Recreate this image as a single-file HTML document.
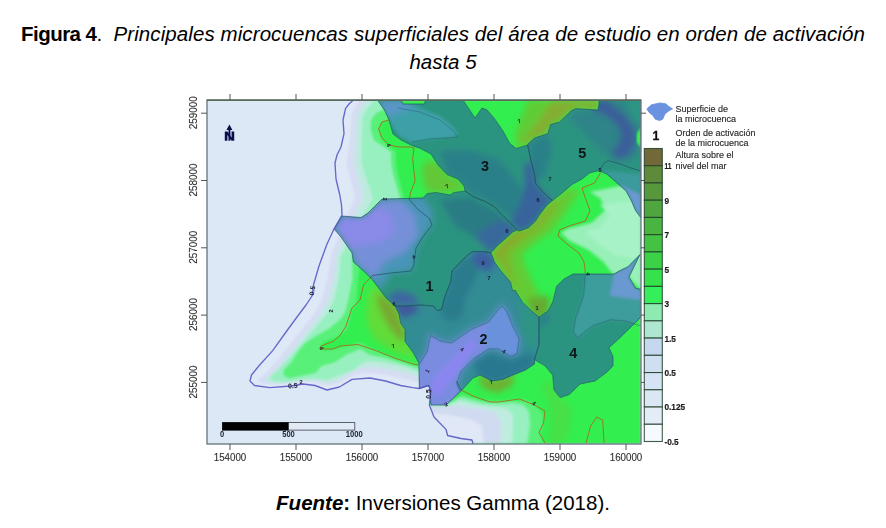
<!DOCTYPE html>
<html><head><meta charset="utf-8"><title>Figura 4</title>
<style>
html,body{margin:0;padding:0;background:#fff;}
body{width:886px;height:528px;position:relative;overflow:hidden;font-family:"Liberation Sans",sans-serif;color:#000;}
.t{position:absolute;left:0;width:886px;text-align:center;white-space:nowrap;}
#t1{top:21.7px;font-size:20.5px;line-height:24px;}
#t2{top:49.6px;font-size:20.5px;line-height:24px;font-style:italic;}
#t3{top:490.7px;font-size:20.5px;line-height:24px;}
</style></head><body>
<div class="t" id="t1"><span id="s1"><b style="letter-spacing:-0.55px">Figura 4</b>.&nbsp; <i id="s1i" style="letter-spacing:0.09px">Principales microcuencas superficiales del área de estudio en orden de activación</i></span></div>
<div class="t" id="t2"><span id="s2">hasta 5</span></div>
<div class="t" id="t3"><span id="s3"><b><i>Fuente</i>:</b> Inversiones Gamma (2018).</span></div>
<svg width="886" height="528" viewBox="0 0 886 528" style="position:absolute;left:0;top:0">
<defs>
<filter id="b0" x="-0.1" y="-0.1" width="1.2" height="1.2"><feGaussianBlur stdDeviation="0.9"/></filter>
<filter id="b1" x="-0.1" y="-0.1" width="1.2" height="1.2"><feGaussianBlur stdDeviation="1.6"/></filter>
<filter id="b2" x="-0.2" y="-0.2" width="1.4" height="1.4"><feGaussianBlur stdDeviation="3"/></filter>
<filter id="b3" x="-0.3" y="-0.3" width="1.6" height="1.6"><feGaussianBlur stdDeviation="5"/></filter>
<filter id="bm" filterUnits="userSpaceOnUse" x="190" y="85" width="470" height="375"><feGaussianBlur stdDeviation="0.55"/></filter>
<filter id="bt" x="-0.1" y="-0.1" width="1.2" height="1.2"><feGaussianBlur stdDeviation="0.45"/></filter>
<clipPath id="cf"><rect x="207" y="100" width="434" height="344"/></clipPath>
<clipPath id="cland"><polygon points="353.4,100.0 349.0,104.0 345.5,108.6 343.0,120.0 344.0,133.6 341.0,147.0 337.0,155.0 335.0,163.0 336.0,179.0 339.8,195.0 341.5,205.0 342.0,215.0 334.0,229.0 327.0,244.0 319.0,266.0 313.6,284.5 312.0,296.0 306.0,305.0 297.0,317.0 286.0,332.0 272.7,350.6 259.0,365.8 251.5,375.0 250.0,381.0 254.5,385.5 269.7,387.6 291.0,386.0 303.0,384.0 315.0,385.5 327.0,390.0 339.4,387.0 352.0,379.4 370.0,378.0 385.5,381.0 400.6,385.5 412.7,387.6 419.4,388.5 428.0,385.5 431.0,390.0 429.4,405.0 434.0,417.0 446.0,429.4 447.6,435.5 461.0,438.5 472.0,440.0 473.0,444.0 641.0,444.0 641.0,100.0"/></clipPath>
<clipPath id="cb1"><polygon points="342.0,216.0 361.0,217.5 368.0,213.0 382.0,199.0 423.0,198.0 427.0,193.6 436.0,192.5 450.0,195.0 454.0,192.5 465.0,191.0 474.0,197.0 485.5,201.6 494.5,207.0 506.0,218.6 517.0,230.0 512.7,232.0 506.0,238.0 497.0,246.0 491.0,252.7 483.6,251.6 472.0,251.6 465.5,257.0 458.6,264.0 452.0,271.0 450.7,282.0 445.0,296.0 442.7,305.0 441.6,309.5 437.0,310.7 433.6,306.0 420.0,305.0 404.0,306.0 395.0,306.0 386.0,298.0 372.7,280.0 363.6,271.0 353.4,262.0 352.0,253.0 341.0,237.0 334.0,229.0"/></clipPath>
<clipPath id="cb2"><polygon points="491.0,252.7 494.5,262.0 501.0,271.0 510.5,282.0 512.7,291.0 515.0,290.0 522.4,302.0 531.5,311.0 539.0,317.0 539.0,344.5 534.5,359.7 534.5,364.0 525.5,370.0 513.0,375.0 502.7,379.4 492.0,381.0 480.0,375.0 473.0,378.0 461.0,391.0 446.0,405.0 431.0,405.0 429.4,385.5 419.4,388.5 418.8,362.7 412.7,352.0 405.0,341.5 405.0,329.4 400.6,323.0 399.0,314.0 395.0,306.0 404.0,306.0 420.0,305.0 433.6,306.0 437.0,310.7 441.6,309.5 442.7,305.0 445.0,296.0 450.7,282.0 452.0,271.0 458.6,264.0 465.5,257.0 472.0,251.6 483.6,251.6"/></clipPath>
<clipPath id="cb3"><polygon points="377.5,100.0 385.0,111.0 389.0,120.0 393.0,134.0 401.0,140.0 413.0,146.0 419.5,148.0 431.0,154.0 438.0,165.0 447.0,174.5 458.0,179.0 464.0,186.0 465.0,191.0 474.0,197.0 485.5,201.6 494.5,207.0 506.0,218.6 517.0,230.0 519.5,231.0 528.6,227.7 535.5,221.0 540.0,214.0 547.0,205.0 552.5,200.5 549.0,198.0 542.0,191.0 535.5,183.4 534.5,174.5 531.0,161.0 527.7,145.0 516.0,148.5 509.5,143.0 503.0,131.0 494.0,118.0 487.0,110.0 482.0,108.0 475.0,118.0 463.0,100.0 426.0,100.0 424.0,104.0 403.0,104.0 401.0,100.0"/></clipPath>
<clipPath id="cb4"><polygon points="555.7,290.0 552.7,302.0 548.0,311.0 539.0,317.0 539.0,344.5 534.5,359.7 545.0,365.8 552.7,375.0 554.0,390.0 560.0,397.6 569.4,394.5 580.0,384.0 595.0,381.0 607.0,372.0 613.0,365.8 613.0,356.7 609.0,347.6 616.0,341.5 628.5,329.4 641.0,317.0 641.0,289.4 635.5,288.0 629.0,277.0 632.0,271.0 640.0,254.5 635.5,259.0 628.0,266.7 619.0,271.0 614.0,274.0 573.0,274.0 564.0,279.0 556.7,286.0"/></clipPath>
<clipPath id="cb5"><polygon points="599.0,100.0 599.0,104.0 598.0,110.0 575.5,108.6 571.0,111.0 559.5,122.0 550.5,124.5 548.0,133.6 534.5,138.0 528.0,144.0 527.7,145.0 531.0,161.0 534.5,174.5 535.5,183.4 542.0,191.0 549.0,198.0 552.5,200.5 562.7,192.5 572.0,184.5 582.0,179.0 590.0,172.7 599.0,170.6 606.7,174.0 617.0,183.0 626.0,191.0 631.0,200.0 635.5,210.6 641.0,218.0 641.0,100.0"/></clipPath>
<clipPath id="call"><polygon points="342.0,216.0 361.0,217.5 368.0,213.0 382.0,199.0 423.0,198.0 427.0,193.6 436.0,192.5 450.0,195.0 454.0,192.5 465.0,191.0 474.0,197.0 485.5,201.6 494.5,207.0 506.0,218.6 517.0,230.0 512.7,232.0 506.0,238.0 497.0,246.0 491.0,252.7 483.6,251.6 472.0,251.6 465.5,257.0 458.6,264.0 452.0,271.0 450.7,282.0 445.0,296.0 442.7,305.0 441.6,309.5 437.0,310.7 433.6,306.0 420.0,305.0 404.0,306.0 395.0,306.0 386.0,298.0 372.7,280.0 363.6,271.0 353.4,262.0 352.0,253.0 341.0,237.0 334.0,229.0"/><polygon points="491.0,252.7 494.5,262.0 501.0,271.0 510.5,282.0 512.7,291.0 515.0,290.0 522.4,302.0 531.5,311.0 539.0,317.0 539.0,344.5 534.5,359.7 534.5,364.0 525.5,370.0 513.0,375.0 502.7,379.4 492.0,381.0 480.0,375.0 473.0,378.0 461.0,391.0 446.0,405.0 431.0,405.0 429.4,385.5 419.4,388.5 418.8,362.7 412.7,352.0 405.0,341.5 405.0,329.4 400.6,323.0 399.0,314.0 395.0,306.0 404.0,306.0 420.0,305.0 433.6,306.0 437.0,310.7 441.6,309.5 442.7,305.0 445.0,296.0 450.7,282.0 452.0,271.0 458.6,264.0 465.5,257.0 472.0,251.6 483.6,251.6"/><polygon points="377.5,100.0 385.0,111.0 389.0,120.0 393.0,134.0 401.0,140.0 413.0,146.0 419.5,148.0 431.0,154.0 438.0,165.0 447.0,174.5 458.0,179.0 464.0,186.0 465.0,191.0 474.0,197.0 485.5,201.6 494.5,207.0 506.0,218.6 517.0,230.0 519.5,231.0 528.6,227.7 535.5,221.0 540.0,214.0 547.0,205.0 552.5,200.5 549.0,198.0 542.0,191.0 535.5,183.4 534.5,174.5 531.0,161.0 527.7,145.0 516.0,148.5 509.5,143.0 503.0,131.0 494.0,118.0 487.0,110.0 482.0,108.0 475.0,118.0 463.0,100.0 426.0,100.0 424.0,104.0 403.0,104.0 401.0,100.0"/><polygon points="555.7,290.0 552.7,302.0 548.0,311.0 539.0,317.0 539.0,344.5 534.5,359.7 545.0,365.8 552.7,375.0 554.0,390.0 560.0,397.6 569.4,394.5 580.0,384.0 595.0,381.0 607.0,372.0 613.0,365.8 613.0,356.7 609.0,347.6 616.0,341.5 628.5,329.4 641.0,317.0 641.0,289.4 635.5,288.0 629.0,277.0 632.0,271.0 640.0,254.5 635.5,259.0 628.0,266.7 619.0,271.0 614.0,274.0 573.0,274.0 564.0,279.0 556.7,286.0"/><polygon points="599.0,100.0 599.0,104.0 598.0,110.0 575.5,108.6 571.0,111.0 559.5,122.0 550.5,124.5 548.0,133.6 534.5,138.0 528.0,144.0 527.7,145.0 531.0,161.0 534.5,174.5 535.5,183.4 542.0,191.0 549.0,198.0 552.5,200.5 562.7,192.5 572.0,184.5 582.0,179.0 590.0,172.7 599.0,170.6 606.7,174.0 617.0,183.0 626.0,191.0 631.0,200.0 635.5,210.6 641.0,218.0 641.0,100.0"/></clipPath>
<clipPath id="cnb"><path clip-rule="evenodd" d="M207,100H641V444H207Z M342.0,216.0 361.0,217.5 368.0,213.0 382.0,199.0 423.0,198.0 427.0,193.6 436.0,192.5 450.0,195.0 454.0,192.5 465.0,191.0 474.0,197.0 485.5,201.6 494.5,207.0 506.0,218.6 517.0,230.0 512.7,232.0 506.0,238.0 497.0,246.0 491.0,252.7 483.6,251.6 472.0,251.6 465.5,257.0 458.6,264.0 452.0,271.0 450.7,282.0 445.0,296.0 442.7,305.0 441.6,309.5 437.0,310.7 433.6,306.0 420.0,305.0 404.0,306.0 395.0,306.0 386.0,298.0 372.7,280.0 363.6,271.0 353.4,262.0 352.0,253.0 341.0,237.0 334.0,229.0Z M491.0,252.7 494.5,262.0 501.0,271.0 510.5,282.0 512.7,291.0 515.0,290.0 522.4,302.0 531.5,311.0 539.0,317.0 539.0,344.5 534.5,359.7 534.5,364.0 525.5,370.0 513.0,375.0 502.7,379.4 492.0,381.0 480.0,375.0 473.0,378.0 461.0,391.0 446.0,405.0 431.0,405.0 429.4,385.5 419.4,388.5 418.8,362.7 412.7,352.0 405.0,341.5 405.0,329.4 400.6,323.0 399.0,314.0 395.0,306.0 404.0,306.0 420.0,305.0 433.6,306.0 437.0,310.7 441.6,309.5 442.7,305.0 445.0,296.0 450.7,282.0 452.0,271.0 458.6,264.0 465.5,257.0 472.0,251.6 483.6,251.6Z M377.5,100.0 385.0,111.0 389.0,120.0 393.0,134.0 401.0,140.0 413.0,146.0 419.5,148.0 431.0,154.0 438.0,165.0 447.0,174.5 458.0,179.0 464.0,186.0 465.0,191.0 474.0,197.0 485.5,201.6 494.5,207.0 506.0,218.6 517.0,230.0 519.5,231.0 528.6,227.7 535.5,221.0 540.0,214.0 547.0,205.0 552.5,200.5 549.0,198.0 542.0,191.0 535.5,183.4 534.5,174.5 531.0,161.0 527.7,145.0 516.0,148.5 509.5,143.0 503.0,131.0 494.0,118.0 487.0,110.0 482.0,108.0 475.0,118.0 463.0,100.0 426.0,100.0 424.0,104.0 403.0,104.0 401.0,100.0Z M555.7,290.0 552.7,302.0 548.0,311.0 539.0,317.0 539.0,344.5 534.5,359.7 545.0,365.8 552.7,375.0 554.0,390.0 560.0,397.6 569.4,394.5 580.0,384.0 595.0,381.0 607.0,372.0 613.0,365.8 613.0,356.7 609.0,347.6 616.0,341.5 628.5,329.4 641.0,317.0 641.0,289.4 635.5,288.0 629.0,277.0 632.0,271.0 640.0,254.5 635.5,259.0 628.0,266.7 619.0,271.0 614.0,274.0 573.0,274.0 564.0,279.0 556.7,286.0Z M599.0,100.0 599.0,104.0 598.0,110.0 575.5,108.6 571.0,111.0 559.5,122.0 550.5,124.5 548.0,133.6 534.5,138.0 528.0,144.0 527.7,145.0 531.0,161.0 534.5,174.5 535.5,183.4 542.0,191.0 549.0,198.0 552.5,200.5 562.7,192.5 572.0,184.5 582.0,179.0 590.0,172.7 599.0,170.6 606.7,174.0 617.0,183.0 626.0,191.0 631.0,200.0 635.5,210.6 641.0,218.0 641.0,100.0Z"/></clipPath>
</defs>
<g clip-path="url(#cf)"><g filter="url(#bm)">
<rect x="197" y="90" width="454" height="364" fill="#dde8f6"/>
<g clip-path="url(#cland)">
<polygon points="353.4,100.0 349.0,104.0 345.5,108.6 343.0,120.0 344.0,133.6 341.0,147.0 337.0,155.0 335.0,163.0 336.0,179.0 339.8,195.0 341.5,205.0 342.0,215.0 334.0,229.0 327.0,244.0 319.0,266.0 313.6,284.5 312.0,296.0 306.0,305.0 297.0,317.0 286.0,332.0 272.7,350.6 259.0,365.8 251.5,375.0 250.0,381.0 254.5,385.5 269.7,387.6 291.0,386.0 303.0,384.0 315.0,385.5 327.0,390.0 339.4,387.0 352.0,379.4 370.0,378.0 385.5,381.0 400.6,385.5 412.7,387.6 419.4,388.5 428.0,385.5 431.0,390.0 429.4,405.0 434.0,417.0 446.0,429.4 447.6,435.5 461.0,438.5 472.0,440.0 473.0,444.0 641.0,444.0 641.0,100.0" fill="#dfe8f6" />
<g filter="url(#b0)">
<polygon points="360.0,100.0 353.4,108.6 351.0,117.7 350.0,140.5 346.6,163.0 350.0,178.0 353.4,190.5 354.5,198.4 349.0,212.0 342.0,228.0 336.0,242.0 331.0,255.5 327.5,278.0 322.0,300.0 314.0,314.0 303.0,328.0 292.0,342.0 280.0,357.0 268.0,371.0 258.0,380.0 262.0,384.0 278.0,384.5 291.0,383.5 303.0,382.0 316.0,382.5 328.0,386.0 339.0,383.0 352.0,376.0 362.0,373.5 370.0,373.0 386.0,375.0 400.6,378.0 413.0,381.0 420.0,383.0 420.0,444.0 641.0,444.0 641.0,100.0" fill="#d6ddf3" />
<polygon points="367.0,100.0 360.0,108.6 356.8,117.7 355.7,140.5 354.5,163.0 358.0,178.0 361.4,190.5 362.5,198.4 356.0,213.0 348.0,230.0 341.0,244.0 336.6,255.5 334.0,278.0 328.0,300.0 320.0,315.0 309.0,329.0 298.0,343.0 286.0,358.0 274.0,372.0 265.0,379.0 268.0,382.5 280.0,383.5 291.0,382.5 303.0,380.5 316.0,380.5 328.0,383.0 339.0,380.0 352.0,372.0 362.0,368.0 370.0,367.0 386.0,369.0 400.6,372.0 413.0,375.0 420.0,378.0 420.0,444.0 641.0,444.0 641.0,100.0" fill="#bfeae0" />
<polygon points="374.0,100.0 367.0,108.6 362.5,117.7 361.4,140.5 361.4,163.0 366.0,178.0 370.5,190.5 372.7,198.4 364.0,214.0 355.0,232.0 347.0,246.0 341.0,255.5 339.0,278.0 334.0,300.0 327.0,314.0 316.0,327.0 305.0,340.0 293.0,354.0 280.0,368.0 270.0,377.0 273.0,381.0 283.0,382.0 291.0,381.5 303.0,379.5 316.0,379.0 327.0,380.0 338.5,375.8 353.6,370.0 362.0,363.0 370.0,361.0 386.0,363.0 400.6,366.0 413.0,370.0 420.0,373.0 420.0,444.0 641.0,444.0 641.0,100.0" fill="#98f0c0" />
<polygon points="388.0,100.0 384.0,109.0 376.0,113.0 371.0,120.0 370.5,129.0 374.0,140.5 384.0,147.0 391.0,152.0 391.0,163.0 393.0,174.5 397.7,190.5 400.0,198.4 385.0,215.0 365.0,240.0 352.0,258.0 352.5,278.0 348.0,301.0 345.0,312.0 340.4,319.0 329.0,328.4 315.8,336.0 304.4,343.6 296.8,353.0 291.0,362.5 283.6,370.0 283.6,375.8 289.2,378.6 302.5,375.8 315.8,372.9 321.4,366.3 334.7,362.5 346.0,354.9 360.0,349.2 370.0,355.0 386.0,358.5 400.6,363.0 413.0,367.0 420.0,369.0 420.0,444.0 641.0,444.0 641.0,100.0" fill="#58f078" />
<polygon points="392.0,100.0 389.0,120.0 382.0,122.0 379.0,129.0 381.8,140.5 389.0,146.0 396.0,152.0 396.0,163.0 398.0,175.0 402.0,190.0 404.0,198.0 390.0,218.0 372.0,245.0 360.0,262.0 358.0,278.0 356.0,304.0 352.0,310.0 350.0,319.0 346.5,330.0 335.0,338.0 323.3,342.0 319.5,348.5 325.2,350.8 338.5,348.3 360.0,342.6 370.0,347.6 376.0,350.6 394.5,358.0 412.7,364.0 418.0,365.0 420.0,366.0 420.0,444.0 641.0,444.0 641.0,100.0" fill="#30ee50" />
</g>
<g filter="url(#b2)">
<polygon points="372.0,285.0 367.0,301.0 367.0,323.6 375.0,340.0 395.0,352.0 412.0,358.0 418.0,362.0 412.7,352.0 405.0,341.5 405.0,329.4 400.6,323.0 399.0,314.0 395.0,306.0 386.0,298.0 378.0,288.0" fill="#62dc38" />
</g>
<g filter="url(#b1)">
<polygon points="440.0,404.0 448.0,405.0 462.6,394.0 472.0,397.4 483.0,400.5 499.0,401.0 514.8,399.7 527.4,400.5 536.9,406.9 543.0,414.8 543.0,425.8 540.0,433.7 543.0,444.0 425.0,444.0 425.0,404.0" fill="#58f078" />
<polygon points="440.0,405.0 446.0,405.0 460.0,397.0 472.0,400.0 483.0,403.0 499.0,404.0 513.0,403.0 523.0,405.0 529.0,412.0 530.0,425.0 527.0,444.0 425.0,444.0 425.0,404.0" fill="#98f0c0" />
<polygon points="440.0,406.0 460.0,401.0 483.0,406.0 499.0,407.5 508.0,409.0 513.0,416.0 513.0,430.0 511.6,444.0 425.0,444.0 425.0,404.0" fill="#c0ece0" />
<polygon points="431.0,406.0 460.0,406.0 483.0,409.5 496.0,413.0 501.0,422.0 500.0,444.0 425.0,444.0 425.0,404.0" fill="#d0daf0" />
<polygon points="431.0,413.0 450.0,415.0 470.0,419.0 482.0,425.0 484.0,444.0 425.0,444.0 425.0,404.0" fill="#e0e7f6" />
</g>
<g filter="url(#b1)">
<polygon points="590.0,192.0 600.6,198.5 605.0,210.6 591.5,222.7 567.0,229.0 561.0,233.0 570.0,241.0 588.5,250.0 603.6,262.0 612.7,274.0 641.0,274.0 641.0,180.0 620.0,186.0" fill="#98f0b8" />
<polygon points="600.0,205.0 610.0,215.0 600.0,228.0 585.0,232.0 600.0,245.0 615.0,255.0 641.0,260.0 641.0,200.0" fill="#a8f2c8" />
<polygon points="629.0,265.0 641.0,255.0 641.0,290.0 629.0,277.0" fill="#98f0b8" />
</g>
<g filter="url(#b2)">
<polygon points="552.5,200.5 547.0,205.0 540.0,214.0 535.5,221.0 528.6,227.7 519.5,231.0 512.7,232.0 506.0,238.0 497.0,246.0 491.0,252.7 494.5,262.0 501.0,271.0 510.5,282.0 512.7,291.0 522.4,302.0 531.5,311.0 539.0,317.0 546.0,306.0 535.0,287.0 526.0,268.0 522.0,254.0 534.0,244.0 551.0,232.0 562.0,218.0 571.0,204.0 581.0,189.0 566.0,190.0" fill="#62cc34" />
<polygon points="552.5,200.5 540.0,214.0 528.6,227.7 512.7,232.0 491.0,252.7 501.0,271.0 512.0,286.0 520.0,296.0 512.0,268.0 510.0,253.0 524.0,241.0 542.0,228.0 552.0,215.0 562.0,200.0" fill="#7cb82e" />
<polygon points="552.5,200.5 540.0,214.0 528.6,227.7 512.7,232.0 491.0,252.7 497.0,264.0 503.0,252.0 518.0,238.0 535.0,226.0 546.0,212.0 556.0,199.0" fill="#8aa82a" />
<polygon points="528.0,100.0 521.0,118.0 515.0,135.0 516.0,148.5 528.0,144.0 534.5,138.0 548.0,133.6 550.5,124.5 559.5,122.0 571.0,111.0 575.5,108.6 598.0,110.0 599.0,100.0" fill="#60cc34" />
<polygon points="552.0,100.0 541.0,118.0 524.0,140.0 522.0,146.0 528.0,144.0 534.5,138.0 548.0,133.6 550.5,124.5 559.5,122.0 571.0,111.0 575.5,108.6 598.0,110.0 599.0,100.0" fill="#84ae30" />
<polygon points="426.0,160.0 440.0,164.0 447.0,174.5 458.0,179.0 464.0,186.0 465.0,191.0 454.0,192.5 440.0,193.0 428.0,193.0 424.0,185.0 422.0,170.0" fill="#62c838" />
<polygon points="527.0,298.0 549.0,296.0 549.0,311.0 539.0,320.0 530.0,311.0" fill="#66aa30" />
<polygon points="378.0,292.0 386.0,298.0 395.0,306.0 399.0,314.0 400.6,323.0 405.0,329.4 405.0,341.5 398.0,338.0 390.0,328.0 383.0,316.0 378.0,304.0" fill="#78a830" />
<polygon points="478.0,374.0 492.0,380.0 502.7,378.0 515.0,373.0 512.0,386.0 497.0,393.0 482.0,388.0" fill="#70b030" />
<polygon points="549.7,381.0 560.0,397.0 572.0,410.0 568.0,435.5 560.0,444.0 548.0,444.0 552.0,420.0 548.0,400.0 540.0,385.0" fill="#46e046" />
</g>
</g>
<g clip-path="url(#cb3)">
<polygon points="377.5,100.0 385.0,111.0 389.0,120.0 393.0,134.0 401.0,140.0 413.0,146.0 419.5,148.0 431.0,154.0 438.0,165.0 447.0,174.5 458.0,179.0 464.0,186.0 465.0,191.0 474.0,197.0 485.5,201.6 494.5,207.0 506.0,218.6 517.0,230.0 519.5,231.0 528.6,227.7 535.5,221.0 540.0,214.0 547.0,205.0 552.5,200.5 549.0,198.0 542.0,191.0 535.5,183.4 534.5,174.5 531.0,161.0 527.7,145.0 516.0,148.5 509.5,143.0 503.0,131.0 494.0,118.0 487.0,110.0 482.0,108.0 475.0,118.0 463.0,100.0 426.0,100.0 424.0,104.0 403.0,104.0 401.0,100.0" fill="#2c9480" />
<g filter="url(#b2)">
<polygon points="440.0,150.0 470.0,150.0 500.0,160.0 520.0,185.0 525.0,205.0 515.0,222.0 500.0,210.0 485.0,200.0 470.0,193.0 464.0,186.0 458.0,179.0 447.0,174.5" fill="#2c8088" />
<polygon points="531.0,161.0 534.5,174.5 535.5,183.4 542.0,191.0 549.0,198.0 552.5,200.5 547.0,205.0 540.0,214.0 535.5,221.0 528.6,227.7 519.5,231.0 510.0,222.0 520.0,205.0 525.0,185.0 524.0,165.0" fill="#38649c" />
</g>
<g filter="url(#b1)">
<polygon points="386.0,106.0 395.0,104.0 420.0,108.0 440.0,116.0 452.0,126.0 458.0,135.0 450.0,137.0 430.0,139.0 412.0,142.0 400.0,136.0 392.0,125.0 388.0,115.0" fill="#3ea0a8" />
</g>
<g filter="url(#b2)">
<polygon points="377.0,100.0 400.0,100.0 420.0,105.0 400.0,112.0 388.0,118.0" fill="#5a96c8" />
</g>
</g>
<g clip-path="url(#cb5)">
<polygon points="599.0,100.0 599.0,104.0 598.0,110.0 575.5,108.6 571.0,111.0 559.5,122.0 550.5,124.5 548.0,133.6 534.5,138.0 528.0,144.0 527.7,145.0 531.0,161.0 534.5,174.5 535.5,183.4 542.0,191.0 549.0,198.0 552.5,200.5 562.7,192.5 572.0,184.5 582.0,179.0 590.0,172.7 599.0,170.6 606.7,174.0 617.0,183.0 626.0,191.0 631.0,200.0 635.5,210.6 641.0,218.0 641.0,100.0" fill="#2c9480" />
<g filter="url(#b2)">
<polygon points="572.0,112.0 598.0,110.0 599.0,100.0 641.0,100.0 641.0,150.0 630.0,162.0 612.0,160.0 600.0,150.0 590.0,140.0 580.0,128.0 570.0,120.0" fill="#2e8488" />
<polygon points="592.0,100.0 608.0,100.0 616.0,108.0 626.0,116.0 634.0,128.0 636.0,142.0 630.0,154.0 619.0,160.0 611.0,153.0 619.0,143.0 621.0,131.0 613.0,121.0 603.0,114.0 592.0,110.0" fill="#3a5e9a" />
<polygon points="625.0,100.0 641.0,100.0 641.0,128.0 632.0,118.0" fill="#2e9484" />
<polygon points="531.0,161.0 534.5,174.5 535.5,183.4 542.0,191.0 549.0,198.0 552.5,200.5 547.0,205.0 540.0,214.0 535.5,221.0 528.6,227.7 519.5,231.0 510.0,222.0 520.0,205.0 525.0,185.0 524.0,165.0" fill="#38649c" />
<polygon points="528.0,144.0 548.0,133.0 552.0,150.0 545.0,175.0 535.0,183.0 531.0,161.0" fill="#2c8088" />
</g>
<g filter="url(#b0)">
<polygon points="641.0,128.0 637.0,133.0 636.5,142.0 641.0,148.0" fill="#40ee58" />
</g>
<g filter="url(#b1)">
<polygon points="617.0,183.0 626.0,187.0 641.0,195.0 641.0,218.0 635.5,210.6 631.0,200.0 626.0,191.0" fill="#6a98d0" />
<polygon points="599.0,170.6 641.0,174.0 641.0,195.0 617.0,183.0 606.7,174.0" fill="#3a9a9c" />
</g>
</g>
<g clip-path="url(#cb1)">
<polygon points="342.0,216.0 361.0,217.5 368.0,213.0 382.0,199.0 423.0,198.0 427.0,193.6 436.0,192.5 450.0,195.0 454.0,192.5 465.0,191.0 474.0,197.0 485.5,201.6 494.5,207.0 506.0,218.6 517.0,230.0 512.7,232.0 506.0,238.0 497.0,246.0 491.0,252.7 483.6,251.6 472.0,251.6 465.5,257.0 458.6,264.0 452.0,271.0 450.7,282.0 445.0,296.0 442.7,305.0 441.6,309.5 437.0,310.7 433.6,306.0 420.0,305.0 404.0,306.0 395.0,306.0 386.0,298.0 372.7,280.0 363.6,271.0 353.4,262.0 352.0,253.0 341.0,237.0 334.0,229.0" fill="#2c9480" />
<g filter="url(#b2)">
<polygon points="382.0,199.0 423.0,198.0 432.0,210.0 432.0,225.0 422.7,237.0 416.0,248.0 413.6,266.0 411.0,271.0 391.0,273.0 380.0,290.0 372.7,280.0 385.0,262.0 405.0,252.0 418.0,235.0 415.0,215.0 400.0,199.0" fill="#4a94b8" />
<polygon points="342.0,216.0 361.0,217.5 368.0,213.0 382.0,199.0 400.0,199.0 415.0,215.0 418.0,235.0 405.0,252.0 385.0,262.0 372.7,280.0 363.6,271.0 353.4,262.0 352.0,253.0 341.0,237.0 334.0,229.0" fill="#7490d8" />
<polygon points="342.0,216.0 361.0,217.5 368.0,213.0 378.0,205.0 392.0,215.0 395.0,232.0 380.0,243.0 360.0,245.0 350.0,250.0 341.0,237.0 334.0,229.0" fill="#8a8ae8" />
<polygon points="440.0,200.0 470.0,197.0 500.0,213.0 517.0,230.0 500.0,246.0 480.0,240.0 455.0,226.0" fill="#2a7c84" />
<polygon points="474.0,236.0 491.0,252.7 506.0,238.0 517.0,230.0 506.0,220.0 492.0,224.0" fill="#38689c" />
<polygon points="386.0,298.0 395.0,306.0 420.0,305.0 415.0,295.0 398.0,290.0" fill="#3c68a0" />
</g>
</g>
<g clip-path="url(#cb2)">
<polygon points="491.0,252.7 494.5,262.0 501.0,271.0 510.5,282.0 512.7,291.0 515.0,290.0 522.4,302.0 531.5,311.0 539.0,317.0 539.0,344.5 534.5,359.7 534.5,364.0 525.5,370.0 513.0,375.0 502.7,379.4 492.0,381.0 480.0,375.0 473.0,378.0 461.0,391.0 446.0,405.0 431.0,405.0 429.4,385.5 419.4,388.5 418.8,362.7 412.7,352.0 405.0,341.5 405.0,329.4 400.6,323.0 399.0,314.0 395.0,306.0 404.0,306.0 420.0,305.0 433.6,306.0 437.0,310.7 441.6,309.5 442.7,305.0 445.0,296.0 450.7,282.0 452.0,271.0 458.6,264.0 465.5,257.0 472.0,251.6 483.6,251.6" fill="#328c94" />
<g filter="url(#b2)">
<polygon points="413.0,392.0 414.0,364.0 419.5,364.0 427.0,351.6 430.6,335.6 440.0,341.0 451.6,343.0 471.0,329.4 488.5,322.0 498.4,309.7 502.0,306.0 507.0,312.0 513.0,327.0 519.3,339.0 516.8,354.0 510.7,356.5 498.4,349.0 488.5,349.0 473.7,359.0 461.4,371.0 456.5,383.6 460.0,391.0 446.0,409.0 428.0,410.0" fill="#4a8cae" stroke="#4a8cae" stroke-width="8" stroke-linejoin="round"/>
</g>
<g filter="url(#b1)">
<polygon points="413.0,392.0 414.0,364.0 419.5,364.0 427.0,351.6 430.6,335.6 440.0,341.0 451.6,343.0 471.0,329.4 488.5,322.0 498.4,309.7 502.0,306.0 507.0,312.0 513.0,327.0 519.3,339.0 516.8,354.0 510.7,356.5 498.4,349.0 488.5,349.0 473.7,359.0 461.4,371.0 456.5,383.6 460.0,391.0 446.0,409.0 428.0,410.0" fill="#7a8ce0" />
<polygon points="488.5,322.0 498.4,309.7 502.0,306.0 507.0,312.0 513.0,327.0 519.3,339.0 516.8,354.0 510.7,356.5 498.4,349.0 488.5,349.0 480.0,340.0" fill="#6a92dc" />
</g>
<g filter="url(#b2)">
<polygon points="452.0,271.0 465.0,257.0 480.0,262.0 475.0,280.0 465.0,300.0 462.0,318.0 448.0,322.0 440.0,312.0 445.0,296.0 450.7,282.0" fill="#2c7c8c" />
<polygon points="388.0,300.0 395.0,298.0 412.0,302.0 420.0,310.0 405.0,318.0 399.0,314.0 395.0,306.0" fill="#40589c" />
<polygon points="478.0,250.0 491.0,252.7 496.0,262.0 490.0,272.0 478.0,268.0 470.0,258.0" fill="#3a60a0" />
<polygon points="472.0,364.0 490.0,353.0 512.0,360.0 530.0,352.0 537.0,362.0 525.0,372.0 513.0,377.0 502.0,381.0 492.0,383.0 480.0,377.0" fill="#2c7890" />
</g>
<g filter="url(#b1)">
<polygon points="431.0,392.0 440.0,396.0 476.0,345.0 471.0,339.0 432.0,380.0" fill="#8a86f0" />
</g>
<g filter="url(#b2)">
<polygon points="520.0,300.0 539.0,317.0 539.0,345.0 530.0,350.0 522.0,330.0" fill="#2e9484" />
</g>
</g>
<g clip-path="url(#cb4)">
<polygon points="555.7,290.0 552.7,302.0 548.0,311.0 539.0,317.0 539.0,344.5 534.5,359.7 545.0,365.8 552.7,375.0 554.0,390.0 560.0,397.6 569.4,394.5 580.0,384.0 595.0,381.0 607.0,372.0 613.0,365.8 613.0,356.7 609.0,347.6 616.0,341.5 628.5,329.4 641.0,317.0 641.0,289.4 635.5,288.0 629.0,277.0 632.0,271.0 640.0,254.5 635.5,259.0 628.0,266.7 619.0,271.0 614.0,274.0 573.0,274.0 564.0,279.0 556.7,286.0" fill="#2c9480" />
<g filter="url(#b1)">
<polygon points="585.5,274.0 583.6,295.5 576.0,316.7 573.0,331.8 577.6,337.9 592.7,325.8 611.0,319.7 626.0,321.2 641.0,326.0 641.0,289.4 635.5,288.0 629.0,277.0 614.0,274.0" fill="#3c9c9c" />
<polygon points="614.0,274.0 619.0,271.0 628.0,266.7 640.0,254.5 632.0,271.0 629.0,277.0 635.5,288.0 641.0,291.0 641.0,300.0 620.0,297.0 609.7,295.5 612.7,283.0" fill="#6a98d0" />
</g>
<g filter="url(#b2)">
<polygon points="548.0,311.0 539.0,317.0 539.0,330.0 550.0,320.0" fill="#2c8088" />
</g>
</g>
<polygon points="342.0,216.0 361.0,217.5 368.0,213.0 382.0,199.0 423.0,198.0 427.0,193.6 436.0,192.5 450.0,195.0 454.0,192.5 465.0,191.0 474.0,197.0 485.5,201.6 494.5,207.0 506.0,218.6 517.0,230.0 512.7,232.0 506.0,238.0 497.0,246.0 491.0,252.7 483.6,251.6 472.0,251.6 465.5,257.0 458.6,264.0 452.0,271.0 450.7,282.0 445.0,296.0 442.7,305.0 441.6,309.5 437.0,310.7 433.6,306.0 420.0,305.0 404.0,306.0 395.0,306.0 386.0,298.0 372.7,280.0 363.6,271.0 353.4,262.0 352.0,253.0 341.0,237.0 334.0,229.0" fill="none" stroke="#24506a" stroke-width="0.9" stroke-opacity="0.75" stroke-linejoin="round"/>
<polygon points="491.0,252.7 494.5,262.0 501.0,271.0 510.5,282.0 512.7,291.0 515.0,290.0 522.4,302.0 531.5,311.0 539.0,317.0 539.0,344.5 534.5,359.7 534.5,364.0 525.5,370.0 513.0,375.0 502.7,379.4 492.0,381.0 480.0,375.0 473.0,378.0 461.0,391.0 446.0,405.0 431.0,405.0 429.4,385.5 419.4,388.5 418.8,362.7 412.7,352.0 405.0,341.5 405.0,329.4 400.6,323.0 399.0,314.0 395.0,306.0 404.0,306.0 420.0,305.0 433.6,306.0 437.0,310.7 441.6,309.5 442.7,305.0 445.0,296.0 450.7,282.0 452.0,271.0 458.6,264.0 465.5,257.0 472.0,251.6 483.6,251.6" fill="none" stroke="#24506a" stroke-width="0.9" stroke-opacity="0.75" stroke-linejoin="round"/>
<polygon points="377.5,100.0 385.0,111.0 389.0,120.0 393.0,134.0 401.0,140.0 413.0,146.0 419.5,148.0 431.0,154.0 438.0,165.0 447.0,174.5 458.0,179.0 464.0,186.0 465.0,191.0 474.0,197.0 485.5,201.6 494.5,207.0 506.0,218.6 517.0,230.0 519.5,231.0 528.6,227.7 535.5,221.0 540.0,214.0 547.0,205.0 552.5,200.5 549.0,198.0 542.0,191.0 535.5,183.4 534.5,174.5 531.0,161.0 527.7,145.0 516.0,148.5 509.5,143.0 503.0,131.0 494.0,118.0 487.0,110.0 482.0,108.0 475.0,118.0 463.0,100.0 426.0,100.0 424.0,104.0 403.0,104.0 401.0,100.0" fill="none" stroke="#24506a" stroke-width="0.9" stroke-opacity="0.75" stroke-linejoin="round"/>
<polygon points="555.7,290.0 552.7,302.0 548.0,311.0 539.0,317.0 539.0,344.5 534.5,359.7 545.0,365.8 552.7,375.0 554.0,390.0 560.0,397.6 569.4,394.5 580.0,384.0 595.0,381.0 607.0,372.0 613.0,365.8 613.0,356.7 609.0,347.6 616.0,341.5 628.5,329.4 641.0,317.0 641.0,289.4 635.5,288.0 629.0,277.0 632.0,271.0 640.0,254.5 635.5,259.0 628.0,266.7 619.0,271.0 614.0,274.0 573.0,274.0 564.0,279.0 556.7,286.0" fill="none" stroke="#24506a" stroke-width="0.9" stroke-opacity="0.75" stroke-linejoin="round"/>
<polygon points="599.0,100.0 599.0,104.0 598.0,110.0 575.5,108.6 571.0,111.0 559.5,122.0 550.5,124.5 548.0,133.6 534.5,138.0 528.0,144.0 527.7,145.0 531.0,161.0 534.5,174.5 535.5,183.4 542.0,191.0 549.0,198.0 552.5,200.5 562.7,192.5 572.0,184.5 582.0,179.0 590.0,172.7 599.0,170.6 606.7,174.0 617.0,183.0 626.0,191.0 631.0,200.0 635.5,210.6 641.0,218.0 641.0,100.0" fill="none" stroke="#24506a" stroke-width="0.9" stroke-opacity="0.75" stroke-linejoin="round"/>
<polyline points="599.0,170.6 603.6,163.6 608.0,160.6 619.0,163.6 631.0,168.0 641.0,171.0" fill="none" stroke="#24506a" stroke-width="0.9" stroke-linejoin="round" stroke-opacity="0.75"/>
<g clip-path="url(#cnb)">
<polyline points="389.0,120.0 382.0,122.0 378.6,129.0 382.0,138.0 389.0,145.0 399.0,147.0 410.5,147.0 414.0,148.4 412.7,158.6 414.0,172.0 415.0,181.0 410.5,192.7 409.3,199.5 418.0,209.5 429.5,218.6 432.0,225.0 422.7,237.0 416.0,248.0 413.6,266.0 411.0,271.0 391.0,273.0 372.7,275.5 363.6,284.5 360.0,300.0 352.0,308.0 346.0,326.0 340.0,335.5 333.0,341.5 321.0,346.0 319.7,349.0 333.0,349.0 340.0,346.0 358.0,344.5 376.0,350.6 394.5,358.0 412.7,364.0 418.0,365.0" fill="none" stroke="#a0701c" stroke-width="1.0" stroke-linejoin="round" stroke-opacity="0.9"/>
<polyline points="600.6,172.7 594.5,183.0 582.0,188.0 585.5,198.5 590.0,210.6 585.5,221.0 570.0,225.7 559.7,230.0 558.0,236.0 567.0,244.0 579.0,253.0 584.0,262.0 585.5,274.0" fill="none" stroke="#a0701c" stroke-width="1.0" stroke-linejoin="round" stroke-opacity="0.9"/>
<polyline points="456.7,381.0 461.0,390.0 473.0,396.0 490.0,402.0 498.0,402.0 519.4,399.0 534.5,405.0 545.0,411.0 543.6,423.0 539.0,432.4 545.0,443.0" fill="none" stroke="#a0701c" stroke-width="1.0" stroke-linejoin="round" stroke-opacity="0.9"/>
<polyline points="586.0,443.0 590.6,426.0 596.7,417.0 602.7,420.0 604.0,443.0" fill="none" stroke="#a0701c" stroke-width="1.0" stroke-linejoin="round" stroke-opacity="0.9"/>
</g><g clip-path="url(#call)">
<polyline points="389.0,120.0 382.0,122.0 378.6,129.0 382.0,138.0 389.0,145.0 399.0,147.0 410.5,147.0 414.0,148.4 412.7,158.6 414.0,172.0 415.0,181.0 410.5,192.7 409.3,199.5 418.0,209.5 429.5,218.6 432.0,225.0 422.7,237.0 416.0,248.0 413.6,266.0 411.0,271.0 391.0,273.0 372.7,275.5 363.6,284.5 360.0,300.0 352.0,308.0 346.0,326.0 340.0,335.5 333.0,341.5 321.0,346.0 319.7,349.0 333.0,349.0 340.0,346.0 358.0,344.5 376.0,350.6 394.5,358.0 412.7,364.0 418.0,365.0" fill="none" stroke="#1c4a5c" stroke-width="0.9" stroke-linejoin="round" stroke-opacity="0.7"/>
<polyline points="600.6,172.7 594.5,183.0 582.0,188.0 585.5,198.5 590.0,210.6 585.5,221.0 570.0,225.7 559.7,230.0 558.0,236.0 567.0,244.0 579.0,253.0 584.0,262.0 585.5,274.0" fill="none" stroke="#1c4a5c" stroke-width="0.9" stroke-linejoin="round" stroke-opacity="0.7"/>
<polyline points="456.7,381.0 461.0,390.0 473.0,396.0 490.0,402.0 498.0,402.0 519.4,399.0 534.5,405.0 545.0,411.0 543.6,423.0 539.0,432.4 545.0,443.0" fill="none" stroke="#1c4a5c" stroke-width="0.9" stroke-linejoin="round" stroke-opacity="0.7"/>
<polyline points="586.0,443.0 590.6,426.0 596.7,417.0 602.7,420.0 604.0,443.0" fill="none" stroke="#1c4a5c" stroke-width="0.9" stroke-linejoin="round" stroke-opacity="0.7"/>
</g>
<polyline points="398.0,108.0 420.0,112.0 440.0,120.0 452.0,130.0 458.0,137.0 448.0,138.0 430.0,139.0 412.0,142.0" fill="none" stroke="#2a5a78" stroke-width="0.8" stroke-linejoin="round" stroke-opacity="0.6"/>
<polyline points="585.5,274.0 585.0,277.0 583.6,295.5 576.0,316.7 573.0,331.8 577.6,337.9 592.7,325.8 611.0,319.7 626.0,321.2 641.0,326.0" fill="none" stroke="#2a5a78" stroke-width="0.8" stroke-linejoin="round" stroke-opacity="0.6"/>
<polyline points="419.5,364.0 427.0,351.6 430.6,335.6 435.0,338.0 440.0,341.0 451.6,343.0 471.0,329.4 488.5,322.0 498.4,309.7 502.0,306.0 507.0,312.0 513.0,327.0 519.3,339.0 516.8,354.0 510.7,356.5 498.4,349.0 488.5,349.0 473.7,359.0 461.4,371.0 456.5,383.6 460.0,391.0" fill="none" stroke="#2a5a78" stroke-width="0.8" stroke-linejoin="round" stroke-opacity="0.6"/>
<polyline points="353.4,100.0 349.0,104.0 345.5,108.6 343.0,120.0 344.0,133.6 341.0,147.0 337.0,155.0 335.0,163.0 336.0,179.0 339.8,195.0 341.5,205.0 342.0,215.0 334.0,229.0 327.0,244.0 319.0,266.0 313.6,284.5 312.0,296.0 306.0,305.0 297.0,317.0 286.0,332.0 272.7,350.6 259.0,365.8 251.5,375.0 250.0,381.0 254.5,385.5 269.7,387.6 291.0,386.0 303.0,384.0 315.0,385.5 327.0,390.0 339.4,387.0 352.0,379.4 370.0,378.0 385.5,381.0 400.6,385.5 412.7,387.6 419.4,388.5 428.0,385.5 431.0,390.0 429.4,405.0 434.0,417.0 446.0,429.4 447.6,435.5 461.0,438.5 472.0,440.0 473.0,444.0" fill="none" stroke="#5656c4" stroke-width="1.35" stroke-linejoin="round" stroke-opacity="0.88" filter="url(#bt)"/>
</g></g>
<rect x="207" y="100" width="434" height="344" fill="none" stroke="#6e7e86" stroke-width="1.4"/>
<line x1="207" y1="100.3" x2="641" y2="100.3" stroke="#5a6a5a" stroke-width="1.6"/>
<line x1="230" y1="94" x2="230" y2="100" stroke="#555" stroke-width="1"/>
<line x1="230" y1="444" x2="230" y2="450" stroke="#555" stroke-width="1"/>
<line x1="296" y1="94" x2="296" y2="100" stroke="#555" stroke-width="1"/>
<line x1="296" y1="444" x2="296" y2="450" stroke="#555" stroke-width="1"/>
<line x1="362" y1="94" x2="362" y2="100" stroke="#555" stroke-width="1"/>
<line x1="362" y1="444" x2="362" y2="450" stroke="#555" stroke-width="1"/>
<line x1="428" y1="94" x2="428" y2="100" stroke="#555" stroke-width="1"/>
<line x1="428" y1="444" x2="428" y2="450" stroke="#555" stroke-width="1"/>
<line x1="494" y1="94" x2="494" y2="100" stroke="#555" stroke-width="1"/>
<line x1="494" y1="444" x2="494" y2="450" stroke="#555" stroke-width="1"/>
<line x1="560" y1="94" x2="560" y2="100" stroke="#555" stroke-width="1"/>
<line x1="560" y1="444" x2="560" y2="450" stroke="#555" stroke-width="1"/>
<line x1="626" y1="94" x2="626" y2="100" stroke="#555" stroke-width="1"/>
<line x1="626" y1="444" x2="626" y2="450" stroke="#555" stroke-width="1"/>
<line x1="201" y1="113.2" x2="207" y2="113.2" stroke="#555" stroke-width="1"/>
<line x1="641" y1="113.2" x2="646" y2="113.2" stroke="#555" stroke-width="1"/>
<line x1="201" y1="180.5" x2="207" y2="180.5" stroke="#555" stroke-width="1"/>
<line x1="641" y1="180.5" x2="646" y2="180.5" stroke="#555" stroke-width="1"/>
<line x1="201" y1="247.8" x2="207" y2="247.8" stroke="#555" stroke-width="1"/>
<line x1="641" y1="247.8" x2="646" y2="247.8" stroke="#555" stroke-width="1"/>
<line x1="201" y1="315.09999999999997" x2="207" y2="315.09999999999997" stroke="#555" stroke-width="1"/>
<line x1="641" y1="315.09999999999997" x2="646" y2="315.09999999999997" stroke="#555" stroke-width="1"/>
<line x1="201" y1="382.4" x2="207" y2="382.4" stroke="#555" stroke-width="1"/>
<line x1="641" y1="382.4" x2="646" y2="382.4" stroke="#555" stroke-width="1"/>
<g font-family="Liberation Sans, sans-serif" font-size="11.5" fill="#303030" stroke="#303030" stroke-width="0.12" filter="url(#bt)">
<text x="230" y="460.7" text-anchor="middle" textLength="32.5" lengthAdjust="spacingAndGlyphs" font-size="10.3">154000</text>
<text x="296" y="460.7" text-anchor="middle" textLength="32.5" lengthAdjust="spacingAndGlyphs" font-size="10.3">155000</text>
<text x="362" y="460.7" text-anchor="middle" textLength="32.5" lengthAdjust="spacingAndGlyphs" font-size="10.3">156000</text>
<text x="428" y="460.7" text-anchor="middle" textLength="32.5" lengthAdjust="spacingAndGlyphs" font-size="10.3">157000</text>
<text x="494" y="460.7" text-anchor="middle" textLength="32.5" lengthAdjust="spacingAndGlyphs" font-size="10.3">158000</text>
<text x="560" y="460.7" text-anchor="middle" textLength="32.5" lengthAdjust="spacingAndGlyphs" font-size="10.3">159000</text>
<text x="626" y="460.7" text-anchor="middle" textLength="32.5" lengthAdjust="spacingAndGlyphs" font-size="10.3">160000</text>
<text transform="translate(196.9,112.7) rotate(-90)" text-anchor="middle" textLength="33" lengthAdjust="spacingAndGlyphs" font-size="10.3">259000</text>
<text transform="translate(196.9,180.0) rotate(-90)" text-anchor="middle" textLength="33" lengthAdjust="spacingAndGlyphs" font-size="10.3">258000</text>
<text transform="translate(196.9,247.3) rotate(-90)" text-anchor="middle" textLength="33" lengthAdjust="spacingAndGlyphs" font-size="10.3">257000</text>
<text transform="translate(196.9,314.59999999999997) rotate(-90)" text-anchor="middle" textLength="33" lengthAdjust="spacingAndGlyphs" font-size="10.3">256000</text>
<text transform="translate(196.9,381.9) rotate(-90)" text-anchor="middle" textLength="33" lengthAdjust="spacingAndGlyphs" font-size="10.3">255000</text>
</g>
<rect x="222.5" y="422.6" width="132.3" height="7.5" fill="#e2eaf6" stroke="#39414d" stroke-width="0.8"/>
<rect x="222.2" y="422.3" width="66.5" height="8.1" fill="#000"/>
<g font-family="Liberation Sans, sans-serif" font-size="8.6" font-weight="bold" fill="#1c2230" filter="url(#bt)" lengthAdjust="spacingAndGlyphs"><text x="222" y="436.8" text-anchor="middle" textLength="4.2" lengthAdjust="spacingAndGlyphs">0</text><text x="288.5" y="436.8" text-anchor="middle" textLength="12.6" lengthAdjust="spacingAndGlyphs">500</text><text x="354.3" y="436.8" text-anchor="middle" textLength="17" lengthAdjust="spacingAndGlyphs">1000</text></g>
<g fill="#0c0c4c" filter="url(#bt)"><polygon points="229.4,124.4 226.4,130 232.4,130"/><rect x="228.5" y="129" width="1.9" height="11.7"/><path d="M224.8,140.7V131.6H227.4L231.6,137.4V131.6H234.2V140.7H231.6L227.4,134.9V140.7Z"/></g>
<g font-family="Liberation Sans, sans-serif" font-weight="bold" font-size="14.4" fill="#0c1418" text-anchor="middle" filter="url(#bt)">
<text x="429.6" y="290.6">1</text>
<text x="483.6" y="343.8">2</text>
<text x="485.1" y="170.5">3</text>
<text x="573.2" y="357.8">4</text>
<text x="582.2" y="157.8">5</text>
</g>
<g font-family="Liberation Sans, sans-serif" font-weight="bold" font-size="5.5" fill="#181830" filter="url(#bt)">
<text transform="translate(387,146) rotate(60)" text-anchor="middle">4</text>
<text transform="translate(383,199) rotate(90)" text-anchor="middle">2</text>
<text transform="translate(448,188) rotate(-30)" text-anchor="middle">7</text>
<text transform="translate(414,255) rotate(180)" text-anchor="middle">4</text>
<text transform="translate(394,306) rotate(0)" text-anchor="middle">6</text>
<text transform="translate(394,348) rotate(-20)" text-anchor="middle">7</text>
<text transform="translate(314.5,291) rotate(-80)" text-anchor="middle" font-size="6.8">0.5</text>
<text transform="translate(333,311) rotate(-90)" text-anchor="middle">2</text>
<text transform="translate(320,349) rotate(60)" text-anchor="middle">4</text>
<text transform="translate(293,388.2) rotate(-5)" text-anchor="middle" font-size="6.8">0.5</text>
<text transform="translate(301,383.5) rotate(0)" text-anchor="middle">2</text>
<text transform="translate(429,372) rotate(-60)" text-anchor="middle">1</text>
<text transform="translate(431,394) rotate(-90)" text-anchor="middle" font-size="6.8">0.5</text>
<text transform="translate(447,406) rotate(-30)" text-anchor="middle">2</text>
<text transform="translate(461,351) rotate(30)" text-anchor="middle">4</text>
<text transform="translate(520,123) rotate(-20)" text-anchor="middle">7</text>
<text transform="translate(550,181) rotate(0)" text-anchor="middle">7</text>
<text transform="translate(538,202) rotate(0)" text-anchor="middle">6</text>
<text transform="translate(507,233) rotate(0)" text-anchor="middle">6</text>
<text transform="translate(483,265) rotate(0)" text-anchor="middle">9</text>
<text transform="translate(489,280) rotate(0)" text-anchor="middle">7</text>
<text transform="translate(537,310) rotate(0)" text-anchor="middle">1</text>
<text transform="translate(503,353) rotate(30)" text-anchor="middle">4</text>
<text transform="translate(492,384) rotate(-20)" text-anchor="middle">7</text>
<text transform="translate(533,405) rotate(30)" text-anchor="middle">4</text>
<text transform="translate(600,172) rotate(0)" text-anchor="middle">5</text>
<text transform="translate(586,274) rotate(90)" text-anchor="middle">4</text>
</g>
<rect x="644.3" y="148.50" width="18" height="17.24" fill="#716a38" stroke="#20402a" stroke-width="1.1" stroke-opacity="0.85"/>
<rect x="644.3" y="165.74" width="18" height="17.24" fill="#5f8a3a" stroke="#20402a" stroke-width="1.1" stroke-opacity="0.85"/>
<rect x="644.3" y="182.97" width="18" height="17.24" fill="#57983c" stroke="#20402a" stroke-width="1.1" stroke-opacity="0.85"/>
<rect x="644.3" y="200.21" width="18" height="17.24" fill="#50a63e" stroke="#20402a" stroke-width="1.1" stroke-opacity="0.85"/>
<rect x="644.3" y="217.44" width="18" height="17.24" fill="#4ab440" stroke="#20402a" stroke-width="1.1" stroke-opacity="0.85"/>
<rect x="644.3" y="234.68" width="18" height="17.24" fill="#44c244" stroke="#20402a" stroke-width="1.1" stroke-opacity="0.85"/>
<rect x="644.3" y="251.91" width="18" height="17.24" fill="#3cd248" stroke="#20402a" stroke-width="1.1" stroke-opacity="0.85"/>
<rect x="644.3" y="269.15" width="18" height="17.24" fill="#36e24c" stroke="#20402a" stroke-width="1.1" stroke-opacity="0.85"/>
<rect x="644.3" y="286.38" width="18" height="17.24" fill="#34ee5a" stroke="#20402a" stroke-width="1.1" stroke-opacity="0.85"/>
<rect x="644.3" y="303.62" width="18" height="17.24" fill="#8eeab0" stroke="#20402a" stroke-width="1.1" stroke-opacity="0.85"/>
<rect x="644.3" y="320.85" width="18" height="17.24" fill="#aee6d2" stroke="#20402a" stroke-width="1.1" stroke-opacity="0.85"/>
<rect x="644.3" y="338.09" width="18" height="17.24" fill="#c6d8f0" stroke="#20402a" stroke-width="1.1" stroke-opacity="0.85"/>
<rect x="644.3" y="355.32" width="18" height="17.24" fill="#d0def2" stroke="#20402a" stroke-width="1.1" stroke-opacity="0.85"/>
<rect x="644.3" y="372.56" width="18" height="17.24" fill="#d6e3f4" stroke="#20402a" stroke-width="1.1" stroke-opacity="0.85"/>
<rect x="644.3" y="389.79" width="18" height="17.24" fill="#dce7f5" stroke="#20402a" stroke-width="1.1" stroke-opacity="0.85"/>
<rect x="644.3" y="407.03" width="18" height="17.24" fill="#e4ecf8" stroke="#20402a" stroke-width="1.1" stroke-opacity="0.85"/>
<rect x="644.3" y="424.26" width="18" height="17.24" fill="#f6f9fd" stroke="#20402a" stroke-width="1.1" stroke-opacity="0.85"/>
<g font-family="Liberation Sans, sans-serif" font-weight="bold" font-size="9.2" fill="#1c1c1c" stroke="#1c1c1c" stroke-width="0.2" filter="url(#bt)">
<text transform="translate(664.4,169.1) scale(0.72,1)">11</text>
<text transform="translate(664.4,203.6) scale(0.9,1)">9</text>
<text transform="translate(664.4,238.1) scale(0.9,1)">7</text>
<text transform="translate(664.4,272.5) scale(0.9,1)">5</text>
<text transform="translate(664.4,307.0) scale(0.9,1)">3</text>
<text transform="translate(664.4,341.5) scale(0.9,1)">1.5</text>
<text transform="translate(664.4,376.0) scale(0.9,1)">0.5</text>
<text transform="translate(664.4,410.4) scale(0.9,1)">0.125</text>
<text transform="translate(664.4,444.9) scale(0.9,1)">-0.5</text>
</g>
<path d="M646.8,108.9 L651.4,104.8 L659.7,102.9 L665.8,103.8 L668.8,106.4 L672.6,108.9 L668.8,110.9 L665,113.9 L662.7,119.2 L659.7,120.5 L655.2,119.2 L652.9,115.5 L649.1,112.4 Z" fill="#6a92e0" stroke="#6a92e0" stroke-width="0.8" stroke-linejoin="round" filter="url(#bt)"/>
<g font-family="Liberation Sans, sans-serif" font-size="9" fill="#2a2a2a" stroke="#2a2a2a" stroke-width="0.15" filter="url(#bt)">
<text x="675.5" y="111.6">Superficie de</text>
<text x="675.5" y="122.4">la microcuenca</text>
<text x="675.5" y="136.1">Orden de activación</text>
<text x="675.5" y="146.1">de la microcuenca</text>
<text x="675.5" y="158.3">Altura sobre el</text>
<text x="675.5" y="168.7">nivel del mar</text>
<text x="656" y="139.6" font-weight="bold" font-size="12.2" fill="#111" stroke="#111" stroke-width="0.35" text-anchor="middle">1</text>
</g>
</svg>
</body></html>
